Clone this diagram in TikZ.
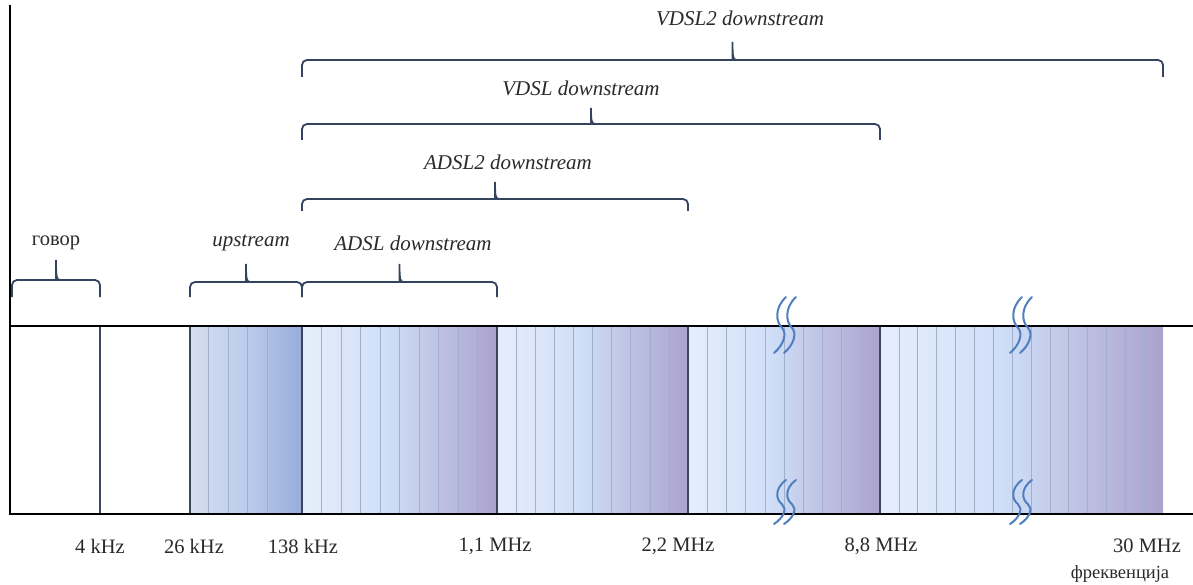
\documentclass[tikz,border=0pt]{standalone}
\usepackage{fontspec}
\setmainfont{Liberation Serif}
\definecolor{braceclr}{HTML}{34435E}
\definecolor{txtclr}{HTML}{2A2A2A}
\definecolor{stripclr}{HTML}{9FB0CA}
\definecolor{edgeclr}{HTML}{3C465C}
\definecolor{waveclr}{HTML}{4F7FC0}
\definecolor{bandL}{HTML}{E6EEFB}
\definecolor{bandM}{HTML}{CFDEF7}
\definecolor{bandR}{HTML}{ABA2CE}
\definecolor{upL}{HTML}{D4DEF1}
\definecolor{upM}{HTML}{BCCCEC}
\definecolor{upR}{HTML}{96ACDA}
\pgfdeclarehorizontalshading{bandshade}{100bp}{color(0bp)=(bandL); color(25bp)=(bandL); color(47bp)=(bandM); color(75bp)=(bandR); color(100bp)=(bandR)}
\pgfdeclarehorizontalshading{upshade}{100bp}{color(0bp)=(upL); color(26bp)=(upL); color(50bp)=(upM); color(75bp)=(upR); color(100bp)=(upR)}
\newcommand{\mybrace}[6]{%
  \pgfmathsetmacro{\xm}{(#2+#3)/2}
  \coordinate (#1L) at (#2,#5);
  \coordinate (#1R) at (#3,#5);
  \coordinate (#1T) at (\xm,#6);
  \draw[bk] (#1L) -- (#2,#4) -- (\xm-4,#4) [sharp corners]
     .. controls (\xm-0.5,#4) and (\xm,#4-3) .. (#1T)
     .. controls (\xm,#4-3) and (\xm+0.5,#4) .. (\xm+4,#4)
     [rounded corners=5pt] -- (#3,#4) -- (#1R);
}
\newcommand{\mywave}[3]{% x, ytop, ybottom
  \pgfmathsetmacro{\wh}{#3-#2}
  \foreach \dx in {0,10}{
    \draw[wave] (#1+\dx+4,#2) .. controls (#1+\dx-8,#2+0.2*\wh) and (#1+\dx-6,#2+0.45*\wh) .. (#1+\dx,#2+0.55*\wh)
      .. controls (#1+\dx+5,#2+0.65*\wh) and (#1+\dx+2,#2+0.85*\wh) .. (#1+\dx-8,#3);
  }
}
\begin{document}
\begin{tikzpicture}[x=1pt,y=-1pt,
  bk/.style={draw=braceclr, line width=1.8pt, rounded corners=5pt},
  lbl/.style={font=\fontsize{21}{24}\selectfont\itshape, text=txtclr, inner sep=0pt},
  flbl/.style={font=\fontsize{20.5}{24}\selectfont, text=txtclr, inner sep=0pt},
  strip/.style={draw=stripclr, line width=0.6pt},
  bandedge/.style={draw=edgeclr, line width=1.2pt},
  wave/.style={draw=waveclr, line width=2pt, line cap=round}]
\useasboundingbox (0,0) rectangle (1193,585);
\fill[white] (0,0) rectangle (1193,585);

% bands
\shade[shading=upshade, shading angle=0] (190,326) rectangle (302,514);
\foreach \x in {208,228,247,267} \draw[strip] (\x,326) -- (\x,514);
\foreach \a/\b in {302/497, 497/688, 688/880, 880/1163}{
  \shade[shading=bandshade, shading angle=0] (\a,326) rectangle (\b,514);
}
\foreach \a/\b in {302/497, 497/688, 688/880, 880/1163}{
  \pgfmathsetmacro{\n}{int(round((\b-\a)/19.4))}
  \pgfmathsetmacro{\st}{(\b-\a)/\n}
  \foreach \i in {1,...,20}{
    \pgfmathsetmacro{\xx}{\a+\i*\st}
    \ifdim \xx pt < \numexpr\b-5\relax pt
      \draw[strip] (\xx,326) -- (\xx,514);
    \fi
  }
}
\foreach \x in {190,302,497,688,880} \draw[bandedge] (\x,326) -- (\x,514);
\draw[draw=edgeclr, line width=1.2pt] (100,326) -- (100,514);

% axes
\draw[black, line width=2.2pt] (10,5) -- (10,515);
\draw[black, line width=2.4pt] (9,326) -- (1193,326);
\draw[black, line width=2.4pt] (9,514) -- (1193,514);

% breaks
\mywave{782}{297}{353}
\mywave{782}{480}{524}
\mywave{1018}{297}{353}
\mywave{1018}{480}{524}

% braces
\mybrace{gov}{12}{100}{280}{297}{260}
\mybrace{up}{190}{302}{282}{297}{264}
\mybrace{adsl}{302}{497}{282}{297}{264}
\mybrace{adsltwo}{302}{688}{199}{211}{182}
\mybrace{vdsl}{302}{880}{124}{140}{108}
\mybrace{vdsltwo}{302}{1163}{60}{77}{42}

% labels
\node[flbl] (tgov) at (56,243) {говор};
\node[lbl] (tup) at (251,243) {upstream};
\node[lbl] (tadsl) at (413,243) {ADSL downstream};
\node[lbl] (tadsltwo) at (508,162) {ADSL2 downstream};
\node[lbl] (tvdsl) at (581,88) {VDSL downstream};
\node[lbl] (tvdsltwo) at (740,18) {VDSL2 downstream};

\node[flbl] (f4) at (100,546) {4 kHz};
\node[flbl] (f26) at (194,546) {26 kHz};
\node[flbl] (f138) at (303,546) {138 kHz};
\node[flbl] (f11) at (495,546) {1,1 MHz};
\node[flbl] (f22) at (678,546) {2,2 MHz};
\node[flbl] (f88) at (881,546) {8,8 MHz};
\node[flbl] (f30) at (1147,546) {30 MHz};
\node[flbl, font=\fontsize{18.5}{21}\selectfont] (ff) at (1120,574) {фреквенција};
\end{tikzpicture}
\end{document}
